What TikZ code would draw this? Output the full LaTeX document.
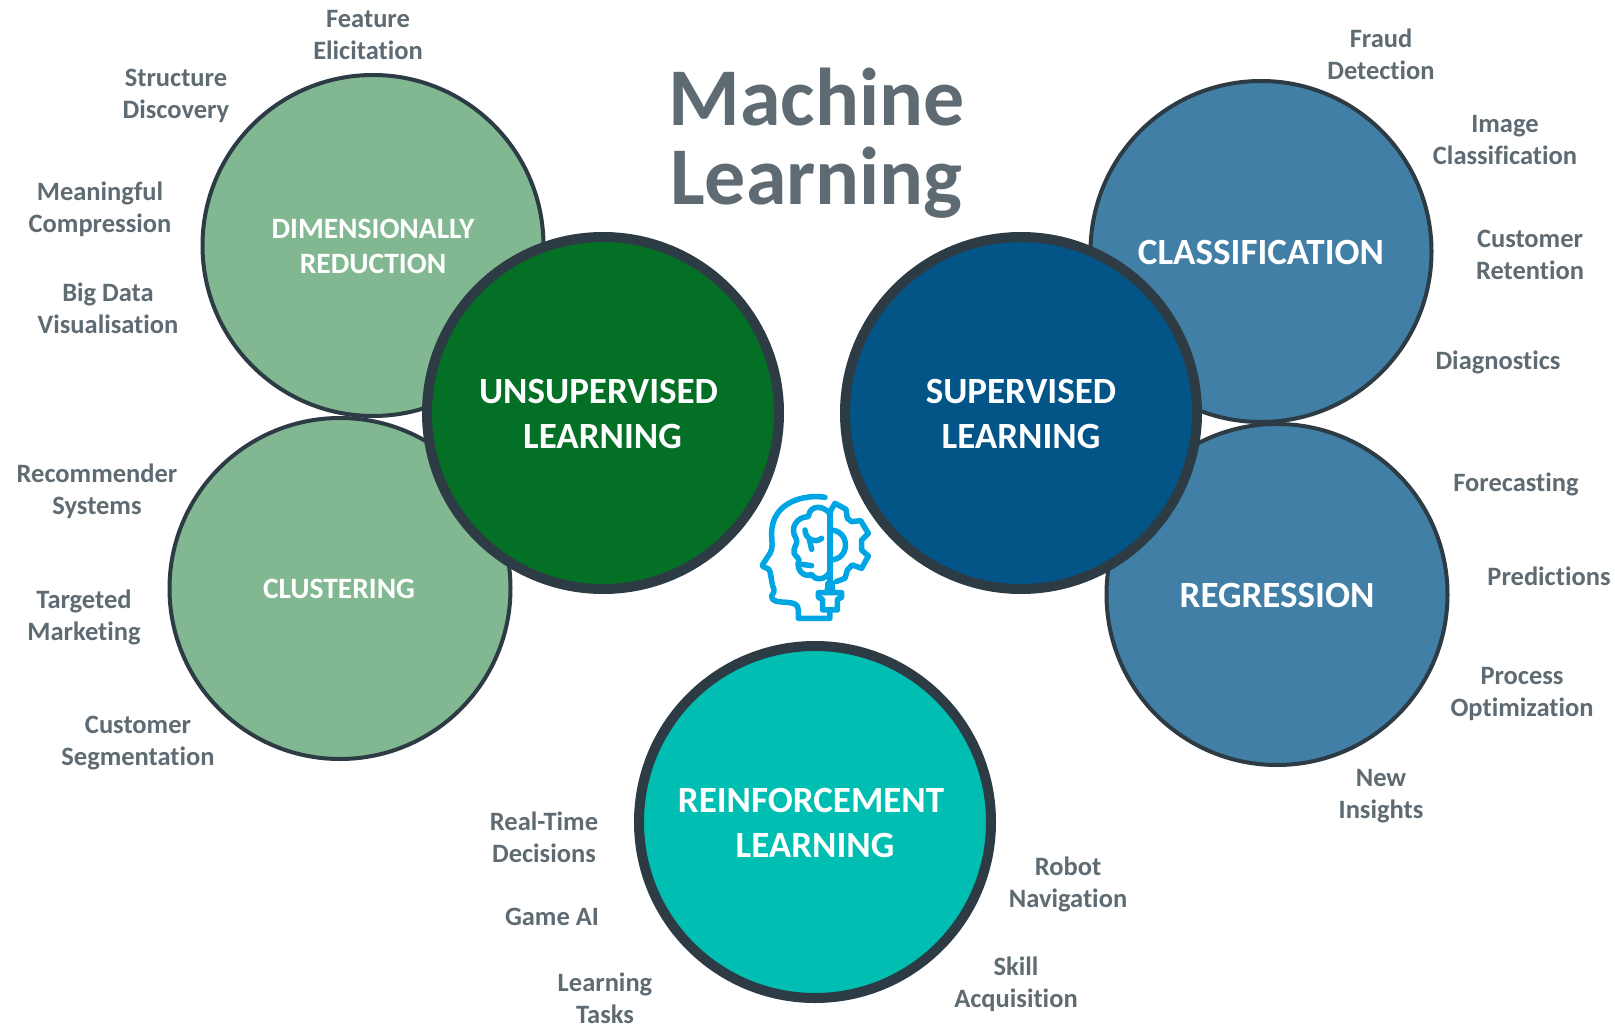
\documentclass[tikz,border=0pt]{standalone}
\usepackage{fontspec}
\setmainfont[Ligatures=NoCommon]{Carlito}
\definecolor{txtgrey}{HTML}{5F6B72}
\definecolor{ringdark}{HTML}{2D3B45}
\definecolor{lgreen}{HTML}{82B891}
\definecolor{dgreen}{HTML}{037025}
\definecolor{lblue}{HTML}{417FA6}
\definecolor{dblue}{HTML}{035588}
\definecolor{teal2}{HTML}{00BFB2}
\definecolor{iconblue}{HTML}{00A5E3}
\tikzset{
 lab/.style={text=txtgrey,align=center,font=\bfseries\fontsize{26.5}{32}\selectfont,inner sep=0pt},
 small/.style={circle,draw=ringdark,line width=4pt,minimum size=341pt,inner sep=0pt},
 big/.style={circle,draw=ringdark,line width=10pt,minimum size=352pt,inner sep=0pt},
 bigtxt/.style={text=white,align=center,font=\bfseries\fontsize{37}{45}\selectfont,inner sep=0pt},
 midtxt/.style={text=white,align=center,font=\bfseries\fontsize{37}{45}\selectfont,inner sep=0pt},
 smalltxt/.style={text=white,align=center,font=\bfseries\fontsize{29.5}{35}\selectfont,inner sep=0pt},
 icon/.style={draw=iconblue,line width=5.5pt,line cap=round,line join=round}
}
\begin{document}
\begin{tikzpicture}[x=1pt,y=-1pt]
\useasboundingbox (0,0) rectangle (1615,1025);
\fill[white] (0,0) rectangle (1615,1025);
\node[small,fill=lgreen] (dimc) at (373,245.5) {};
\node[small,fill=lgreen] (cluc) at (340,588.5) {};
\node[small,fill=lblue] (clac) at (1261,251.5) {};
\node[small,fill=lblue] (regc) at (1277,594.5) {};
\node[big,fill=dgreen] (unc) at (603,413) {};
\node[big,fill=dblue] (supc) at (1021,413) {};
\node[big,fill=teal2] (rec) at (815,822) {};
\node[text=txtgrey,align=center,inner sep=0pt,font=\bfseries\fontsize{82}{79.5}\selectfont] (title) at (816.5,143) {Machine\\Learning};
\node[smalltxt] (t1) at (373,246.5) {DIMENSIONALLY\\REDUCTION};
\node[smalltxt] (t2) at (339,589) {CLUSTERING};
\node[midtxt] (t3) at (1261,252.5) {CLASSIFICATION};
\node[midtxt] (t4) at (1277,595.5) {REGRESSION};
\node[bigtxt] (t5) at (598.5,413.5) {UNSUPERVISED\\\hspace*{8pt}LEARNING};
\node[bigtxt] (t6) at (1021,413.5) {SUPERVISED\\LEARNING};
\node[bigtxt] (t7) at (811,822.5) {REINFORCEMENT\\\hspace*{8pt}LEARNING};
\node[lab] (a1) at (368,35) {Feature\\Elicitation};
\node[lab] (a2) at (176,96) {Structure\\Discovery};
\node[lab] (a3) at (100,209) {Meaningful\\Compression};
\node[lab] (a4) at (108,308) {Big Data\\Visualisation};
\node[lab] (a5) at (97,491) {Recommender\\Systems};
\node[lab] (a6) at (84,617.5) {Targeted\\Marketing};
\node[lab] (a7) at (138,743) {Customer\\Segmentation};
\node[lab] (b1) at (1381,54.5) {Fraud\\Detection};
\node[lab] (b2) at (1505,140.5) {Image\\Classification};
\node[lab] (b3) at (1530,254.5) {Customer\\Retention};
\node[lab] (b4) at (1498,362.5) {Diagnostics};
\node[lab] (b5) at (1516,484) {Forecasting};
\node[lab] (b6) at (1549,576.5) {Predictions};
\node[lab] (b7) at (1522,694) {Process\\Optimization};
\node[lab] (b8) at (1381,796.5) {New\\Insights};
\node[lab] (c1) at (544,837.5) {Real-Time\\Decisions};
\node[lab] (c2) at (552,917) {Game AI};
\node[lab] (c3) at (605,998) {Learning\\Tasks};
\node[lab] (c4) at (1068,884.5) {Robot\\Navigation};
\node[lab] (c5) at (1016,984) {Skill\\Acquisition};
\begin{scope}[shift={(730,470)},x=0.3333pt,y=-0.3333pt,icon]
\draw (285,82) .. controls (225,72) and (125,95) .. (125,190) .. controls (125,215) and (130,235) .. (120,250) -- (97,285) .. controls (95,295) and (118,290) .. (120,305) .. controls (125,325) and (125,345) .. (132,358) .. controls (135,372) and (118,375) .. (128,388) .. controls (145,405) and (205,385) .. (205,420) -- (205,445) -- (300,445) -- (300,425);
\draw (300,125) -- (300,335);
\draw (300,132) .. controls (285,108) and (240,100) .. (235,140) .. controls (200,140) and (178,175) .. (198,205) .. controls (205,218) and (195,225) .. (192,240) .. controls (188,255) and (205,260) .. (207,270) .. controls (195,300) and (225,325) .. (245,313) .. controls (255,332) and (285,332) .. (300,305);
\draw (225,180) .. controls (225,205) and (255,222) .. (275,205);
\draw (238,208) -- (245,238);
\draw (215,283) -- (245,287);
\draw (300,180) .. controls (362,180) and (362,270) .. (300,270);
\draw (302,122) -- (315,100) -- (348,118) -- (352,145) -- (365,155) -- (392,152) -- (415,190) -- (395,210) -- (395,240) -- (415,258) -- (395,295) -- (367,285) -- (352,300) -- (345,325) -- (318,335);
\draw (292,362) -- (294,340) -- (306,340) -- (308,362);
\draw (265,368) -- (335,368) -- (335,382) -- (322,388) -- (322,420) -- (278,420) -- (278,388) -- (265,382) -- cycle;
\end{scope}
\end{tikzpicture}
\end{document}
